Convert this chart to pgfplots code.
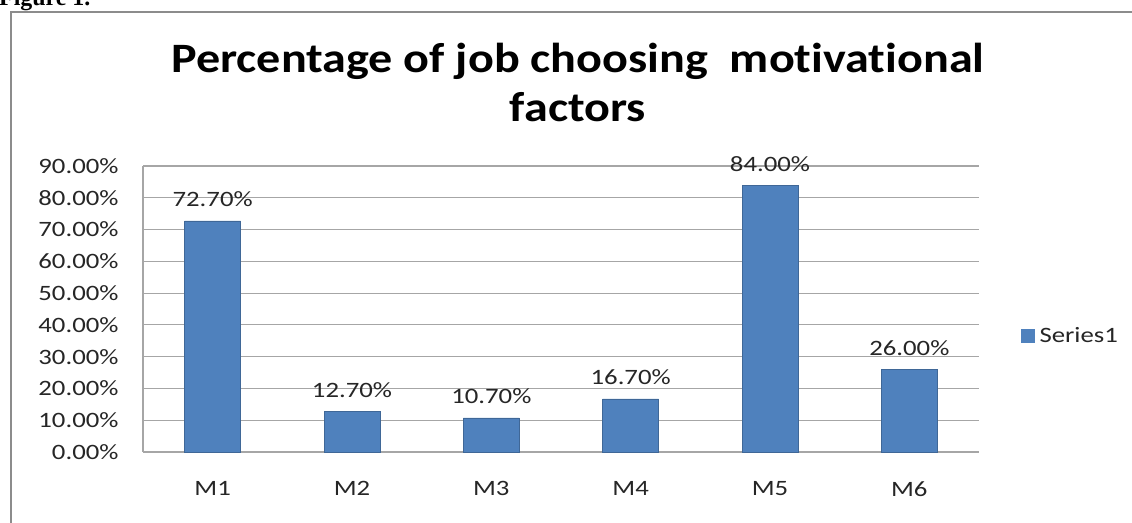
\documentclass[border=0pt]{standalone}
\usepackage{pgfplots}
\pgfplotsset{compat=1.18}
\usepackage{fontspec}
\setmainfont{Carlito}[FakeStretch=1.22,Ligatures=NoCommon]
\newfontfamily\titlefont{Carlito}[FakeStretch=1.15,Ligatures=NoCommon]
\newfontfamily\figfont{Liberation Serif}
\definecolor{barblue}{HTML}{4F81BD}
\definecolor{gridgray}{HTML}{A6A6A6}
\definecolor{framegray}{HTML}{8C8C8C}
\definecolor{txt}{HTML}{262626}
\begin{document}
\begin{tikzpicture}[x=1bp,y=1bp]
\clip (0,0) rectangle (1132,523);
\useasboundingbox (0,0) rectangle (1132,523);
\fill[white] (0,0) rectangle (1132,523);
% frame
\draw[framegray, line width=2bp] (11,-5) -- (11,511) -- (1140,511);
% figure caption (cut off at the top, as in the source)
\node[anchor=base west, inner sep=0, font=\figfont\bfseries\fontsize{24}{28}\selectfont] at (-1,517) {Figure 1.};
% title
\node[anchor=base, inner sep=0, font=\titlefont\bfseries\fontsize{42}{48}\selectfont] at (578,450) {Percentage of job choosing\ \ motivational};
\node[anchor=base, inner sep=0, font=\titlefont\bfseries\fontsize{42}{48}\selectfont] at (578,401) {factors};
\begin{axis}[
  at={(143bp,71bp)}, anchor=south west,
  scale only axis, width=836bp, height=286bp,
  xmin=-0.5, xmax=5.5, ymin=0, ymax=90,
  xtick={0,1,2,3,4,5},
  xticklabels={M1,M2,M3,M4,M5,M6},
  ytick={0,10,20,30,40,50,60,70,80,90},
  yticklabel={\pgfmathprintnumber[fixed,fixed zerofill,precision=2]{\tick}\%},
  /pgf/number format/assume math mode=true,
  major tick length=0pt,
  axis x line*=bottom, axis y line*=left,
  axis line style={gridgray, line width=1.2bp, -},
  ymajorgrids, grid style={gridgray, line width=1.2bp},
  ticklabel style={font=\fontsize{22}{26}\selectfont, text=txt},
  yticklabel style={xshift=-21bp},
  xticklabel style={yshift=-26bp},
  ybar, bar width=56bp,
  nodes near coords={\pgfmathprintnumber[fixed,fixed zerofill,precision=2]{\pgfplotspointmeta}\%},
  nodes near coords style={font=\fontsize{22}{26}\selectfont, text=txt, anchor=base, yshift=14bp},
  legend style={at={(rel axis cs:1.05,0.406)}, anchor=west, draw=none, fill=none, inner sep=0pt,
    font=\fontsize{22}{26}\selectfont, text=txt},
  legend image code/.code={\fill[barblue] (0bp,-6.5bp) rectangle (13bp,6.5bp);},
  clip=false,
]
\addplot[fill=barblue, draw=barblue!80!black, line width=0.5bp] coordinates {(0,72.7) (1,12.7) (2,10.7) (3,16.7) (4,84.0) (5,26.0)};
\addlegendentry{\hspace{3bp}Series1}
\end{axis}
\end{tikzpicture}
\end{document}
